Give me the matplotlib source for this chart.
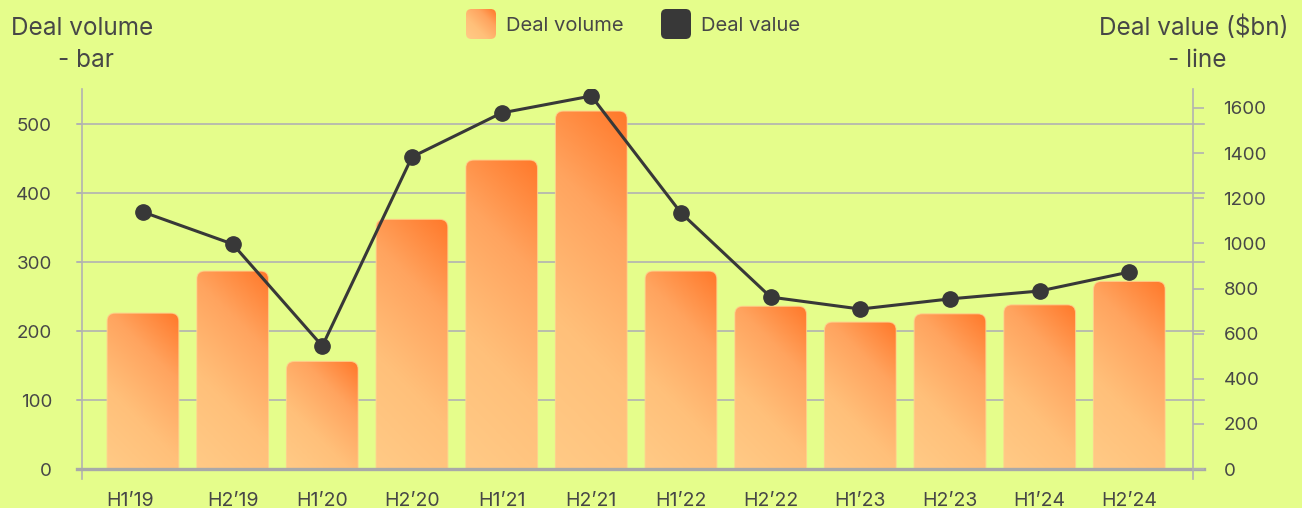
import matplotlib
matplotlib.use("Agg")
import matplotlib.pyplot as plt
import numpy as np
from matplotlib.colors import LinearSegmentedColormap
from matplotlib.patches import FancyBboxPatch, Rectangle
import matplotlib.transforms as mtransforms

plt.rcParams['font.family'] = ['Inter', 'DejaVu Sans']

# data
periods = ["H1’19", "H2’19", "H1’20", "H2’20", "H1’21", "H2’21",
           "H1’22", "H2’22", "H1’23", "H2’23", "H1’24", "H2’24"]
deal_volume = [226, 287, 156, 362, 448, 519, 287, 236, 213, 225, 238, 272]
deal_value = [1139, 997, 545, 1383, 1578, 1653, 1135, 762, 709, 754, 789, 873]
left_ticks = [0, 100, 200, 300, 400, 500]
right_ticks = [0, 200, 400, 600, 800, 1000, 1200, 1400, 1600]

BG = "#e5fd8b"
TXT = "#474747"
GRID = "#b2b2b2"
LINE = "#383838"
grad_cmap = LinearSegmentedColormap.from_list(
    "peach", [(0, "#ffca86"), (0.35, "#ffc07a"), (0.7, "#ffa45f"), (1, "#ff792b")])

W, H = 1302, 508
fig = plt.figure(figsize=(W / 100, H / 100), dpi=100, facecolor=BG)
ax_l, ax_r, ax_b, ax_t = 82, 1193, 479, 89
ax = fig.add_axes([ax_l / W, 1 - ax_b / H, (ax_r - ax_l) / W, (ax_b - ax_t) / H])
ax.set_facecolor(BG)

xlim = (-0.68, 11.71)
ylim = (-14.5, 551)
ax.set_xlim(*xlim)
ax.set_ylim(*ylim)

# grid lines sticking out a little on both sides
blend = mtransforms.blended_transform_factory(ax.transAxes, ax.transData)
for t in left_ticks[1:]:
    ax.plot([-0.0045, 1.0099], [t, t], color=GRID, lw=1.2, transform=blend,
            clip_on=False, zorder=0.5)
ax.plot([-0.0045, 1.0099], [0, 0], color="#a9a9a9", lw=2.4, transform=blend,
        clip_on=False, zorder=3)

# gradient bars with rounded tops, diagonal gradient in pixel space
px_x = (ax_r - ax_l) / (xlim[1] - xlim[0])
px_y = (ax_b - ax_t) / (ylim[1] - ylim[0])
aspect = px_x / px_y
bw = 0.8
r = 8 / px_x
above_zero = Rectangle((xlim[0], 0), xlim[1] - xlim[0], 1000, transform=ax.transData)
for i, val in enumerate(deal_volume):
    x0 = i - bw / 2
    wpx, hpx = bw * px_x, val * px_y
    xs = np.linspace(0, wpx, 40)
    ys = np.linspace(0, hpx, max(int(hpx / 2), 10))
    gx, gy = np.meshgrid(xs, ys)
    grad = (gx + gy) / (wpx + hpx)
    patch = FancyBboxPatch((x0, -20), bw, val + 20,
                           boxstyle=f"round,pad=0,rounding_size={r}",
                           mutation_aspect=aspect, fc="none", ec="none",
                           transform=ax.transData)
    ax.add_patch(patch)
    im = ax.imshow(grad, cmap=grad_cmap, vmin=0, vmax=1, origin="lower",
                   extent=[x0, x0 + bw, 0, val], aspect="auto", zorder=2,
                   interpolation="bilinear")
    im.set_clip_path(patch)
    edge = FancyBboxPatch((x0, -20), bw, val + 20,
                          boxstyle=f"round,pad=0,rounding_size={r}",
                          mutation_aspect=aspect, fc="none", ec="#ffd08e",
                          lw=0.8, alpha=0.8, zorder=2.1)
    ax.add_patch(edge)
    edge.set_clip_path(above_zero)

ax.set_xlim(*xlim)
ax.set_ylim(*ylim)

ax.set_xticks(range(len(periods)))
ax.set_xticklabels(periods)
ax.set_yticks(left_ticks)
ax.tick_params(axis="x", length=0, pad=9, labelsize=14, labelcolor=TXT)
ax.tick_params(axis="y", length=3.6, width=1.2, color=GRID, pad=18,
               labelsize=13.5, labelcolor=TXT)
# the first label sits a bit to the left in the original
first = ax.get_xticklabels()[0]
first.set_transform(first.get_transform() +
                    mtransforms.ScaledTranslation(-13 / 100, 0, fig.dpi_scale_trans))
for s in ["top", "right", "bottom"]:
    ax.spines[s].set_visible(False)
ax.spines["left"].set_color(GRID)
ax.spines["left"].set_linewidth(1.2)

# line on the right axis
ax2 = ax.twinx()
ax2.patch.set_visible(False)
ax2.set_ylim(-44, 1684)
ax2.plot(range(len(periods)), deal_value, color=LINE, lw=2.2, marker="o",
         markersize=11, zorder=5)
ax2.set_yticks(right_ticks)
ax2.tick_params(axis="y", length=8, width=1.2, color=GRID, pad=14,
                labelsize=13.5, labelcolor=TXT)
for s in ["top", "left", "bottom"]:
    ax2.spines[s].set_visible(False)
ax2.spines["right"].set_color(GRID)
ax2.spines["right"].set_linewidth(1.2)
ax2.set_xlim(*xlim)

# axis titles
fig.text(82.5 / W, 1 - 35 / H, "Deal volume", ha="center", va="baseline",
         fontsize=17.5, color=TXT)
fig.text(86 / W, 1 - 67 / H, "- bar", ha="center", va="baseline",
         fontsize=17.5, color=TXT)
fig.text(1194 / W, 1 - 35 / H, "Deal value ($bn)", ha="center", va="baseline",
         fontsize=17.5, color=TXT)
fig.text(1197 / W, 1 - 67 / H, "- line", ha="center", va="baseline",
         fontsize=17.5, color=TXT)

# legend
sq = 30
lg1 = fig.add_axes([466 / W, 1 - 39 / H, sq / W, sq / H])
lg1.set_axis_off()
p1 = FancyBboxPatch((0, 0), 1, 1, boxstyle="round,pad=0,rounding_size=0.18",
                    fc="none", ec="none", transform=lg1.transAxes)
lg1.add_patch(p1)
u, v = np.meshgrid(np.linspace(0, 1, 30), np.linspace(0, 1, 30))
im = lg1.imshow((u + v) / 2, cmap=grad_cmap, vmin=0, vmax=1, origin="lower",
                extent=[0, 1, 0, 1], aspect="auto", interpolation="bilinear")
im.set_clip_path(p1)
lg1.set_xlim(0, 1)
lg1.set_ylim(0, 1)

lg2 = fig.add_axes([661 / W, 1 - 39 / H, sq / W, sq / H])
lg2.set_axis_off()
lg2.add_patch(FancyBboxPatch((0, 0), 1, 1, boxstyle="round,pad=0,rounding_size=0.18",
                             fc=LINE, ec="none", transform=lg2.transAxes))

fig.text(506 / W, 1 - 26 / H, "Deal volume", ha="left", va="center",
         fontsize=14.5, color=TXT)
fig.text(701 / W, 1 - 26 / H, "Deal value", ha="left", va="center",
         fontsize=14.5, color=TXT)

fig.savefig("out.png", dpi=100, facecolor=BG)
